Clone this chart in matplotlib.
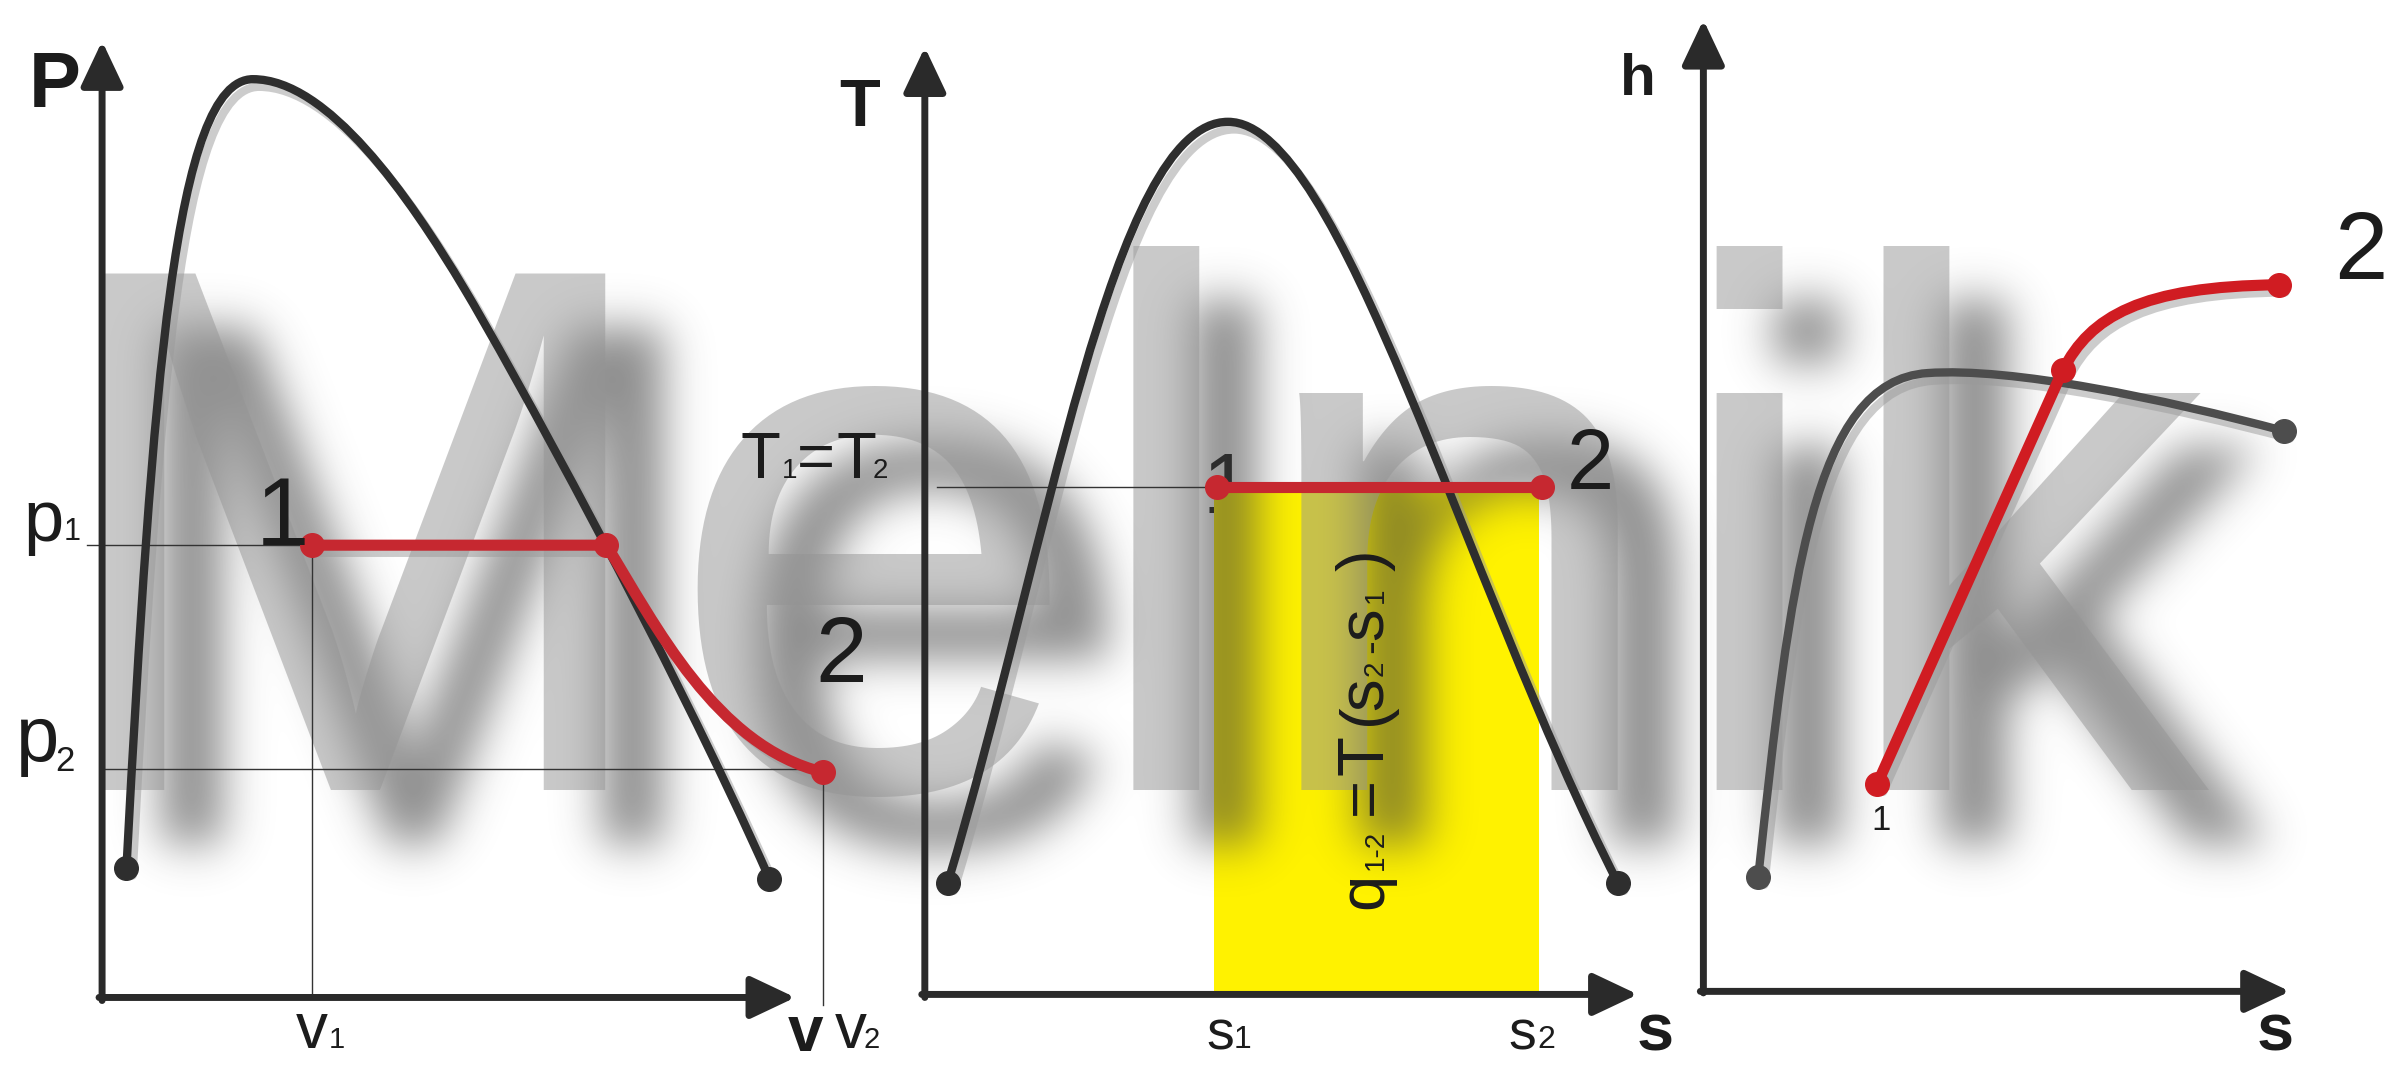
import numpy as np
import matplotlib
matplotlib.use("Agg")
import matplotlib.pyplot as plt
from matplotlib.path import Path
from matplotlib.patches import PathPatch, Rectangle
from matplotlib.figure import Figure
from matplotlib.backends.backend_agg import FigureCanvasAgg

plt.rcParams['font.family'] = ['Liberation Sans', 'DejaVu Sans']

# drawing units = reference picture at 1568x700, y pointing down
W, H = 1568, 700

# saturation curves and processes, bezier control points (x, y)
pv_dome = [(83, 570), (100, 250), (115, 52), (166, 52), (215, 52), (268, 128),
           (305, 190), (332, 235), (440, 430), (505, 577)]
pv_proc = [(205, 358), (398, 358), (430, 410), (470, 490), (540, 507)]
ts_dome = [(622, 580), (688, 360), (730, 80), (806, 80), (880, 80), (960, 380), (1062, 580)]
ts_proc = [(799, 320), (1012, 320)]
hs_sat = [(1154, 576), (1175, 380), (1190, 250), (1265, 245), (1320, 241), (1420, 262), (1499, 283)]
hs_proc = [(1232, 515), (1354, 243), (1372, 208), (1405, 188), (1496, 187)]

pv_red_dots = [(205, 358), (398, 358), (540, 507)]
ts_red_dots = [(799, 320), (1012, 320)]
hs_red_dots = [(1232, 515), (1354, 243), (1496, 187)]

# coordinate axes (start, tip)
axes_arrows = [((67, 657), (67, 27)), ((65, 655), (522, 655)),
               ((607, 655), (607, 31)), ((605, 653), (1075, 653)),
               ((1118, 652), (1118, 13)), ((1116, 651), (1503, 651))]

# thin guide lines
guides = [((57, 358), (205, 358)), ((205, 358), (205, 655)),
          ((67, 505), (540, 505)), ((540, 507), (540, 660)),
          ((615, 320), (799, 320))]

# heat area q = T(s2 - s1): s1, s2, top, bottom
q_area = (797, 1010, 322, 651)

# labels: x, baseline y, text, size, weight
labels = [
    (19, 70, 'P', 56, 'bold'),
    (15.5, 355.5, 'p', 52, 'normal'), (41.5, 354.5, '1', 22, 'normal'),
    (10.6, 500, 'p', 56, 'normal'), (36, 506.5, '2', 25, 'normal'),
    (168, 358, '1', 69, 'normal'),
    (535, 448, '2', 67, 'normal'),
    (194, 688, 'v', 46, 'normal'), (216, 688, '1', 21, 'normal'),
    (517, 690, 'v', 46, 'bold'),
    (548, 688, 'v', 46, 'normal'), (567, 688, '2', 21, 'normal'),
    (551, 82.6, 'T', 48, 'bold'),
    (486, 314, 'T', 47, 'normal'), (513, 314, '1', 20, 'normal'),
    (523, 314, '=', 47, 'normal'), (549, 314, 'T', 47, 'normal'), (573, 314, '2', 20, 'normal'),
    (1028, 321, '2', 61, 'normal'),
    (792, 689, 's', 40, 'normal'), (810, 688, '1', 23, 'normal'),
    (990, 689, 's', 40, 'normal'), (1009, 688, '2', 23, 'normal'),
    (1074, 690, 's', 48, 'bold'),
    (1063, 62.5, 'h', 42, 'bold'),
    (1532, 183, '2', 69, 'normal'),
    (1481, 690, 's', 48, 'bold'),
]
# labels partly hidden under the process lines
hidden_labels = [(789, 337, '1', 61), (1228, 545, '1', 25)]

# rotated formula q1-2 = T(s2-s1): text, size, start y
q_pieces = [('q', 47, 597), ('1-2', 20, 571), ('=', 47, 535), ('T', 47, 509),
            ('(', 47, 476), ('s', 47, 466), ('2', 20, 444), ('-', 30, 429),
            ('s', 47, 420), ('1', 20, 396), (')', 47, 375)]
q_baseline_x = 907.5

wm_text = 'Melnik'
wm_pos = (27.4, 519)
wm_size = 540
wm_shadow_off = (38, 35)

DARK = '#2e2e2e'
RED = '#c62830'
RED3 = '#d01c22'
TXT = '#1c1c1c'


def bez(pts, n_line=0):
    codes = [Path.MOVETO] + [Path.LINETO] * n_line + [Path.CURVE4] * (len(pts) - 1 - n_line)
    return Path(pts, codes)


fig = plt.figure(figsize=(23.89, 10.66), dpi=100)
ax = fig.add_axes([0, 0, 1, 1])

# yellow area
ax.add_patch(Rectangle((q_area[0], q_area[2]), q_area[1] - q_area[0], q_area[3] - q_area[2],
                       facecolor='#fff200', edgecolor='none', zorder=1))

# watermark shadow, blurred
sfig = Figure(figsize=(23.89, 10.66), dpi=100)
FigureCanvasAgg(sfig)
sax = sfig.add_axes([0, 0, 1, 1])
sax.set_xlim(0, W)
sax.set_ylim(H, 0)
sax.axis('off')
sax.text(wm_pos[0] + wm_shadow_off[0], wm_pos[1] + wm_shadow_off[1], wm_text,
         fontsize=wm_size, color='black', va='baseline', ha='left')
sfig.canvas.draw()
m = 1 - np.asarray(sfig.canvas.buffer_rgba())[..., 0] / 255.0
ky = np.fft.fftfreq(m.shape[0])[:, None]
kx = np.fft.rfftfreq(m.shape[1])[None, :]
sig = 22
m = np.fft.irfft2(np.fft.rfft2(m) * np.exp(-2 * (np.pi * sig) ** 2 * (kx ** 2 + ky ** 2)), s=m.shape)
img = np.zeros(m.shape + (4,))
img[..., :3] = 0.25
img[..., 3] = np.clip(m, 0, 1) * 0.6
ax.imshow(img, extent=(0, W, H, 0), aspect='auto', zorder=2, interpolation='bilinear')

# watermark letters
ax.text(wm_pos[0], wm_pos[1], wm_text, fontsize=wm_size, color='#949494', alpha=0.5,
        va='baseline', ha='left', zorder=3)

# curve shadows
for pts, nl in [(pv_dome, 0), (ts_dome, 0), (hs_sat, 0), (pv_proc, 1), (hs_proc, 1)]:
    sh = [(x + 4, y + 5) for x, y in pts]
    ax.add_patch(PathPatch(bez(sh, nl), fill=False, lw=6, edgecolor='#9a9a9a', alpha=0.5,
                           capstyle='round', zorder=4))

for (x0, y0), (x1, y1) in guides:
    ax.plot([x0, x1], [y0, y1], color='#333333', lw=1.0, zorder=5)

for start, tip in axes_arrows:
    ax.annotate('', xy=tip, xytext=start,
                arrowprops=dict(arrowstyle='-|>,head_length=0.55,head_width=0.26',
                                lw=5, color='#2a2a2a', mutation_scale=50,
                                shrinkA=0, shrinkB=0), zorder=5)

# saturation curves
for pts, col in [(pv_dome, DARK), (ts_dome, DARK), (hs_sat, '#4d4d4d')]:
    ax.add_patch(PathPatch(bez(pts), fill=False, lw=6, edgecolor=col, capstyle='round', zorder=6))
    ends = np.array([pts[0], pts[-1]])
    ax.plot(ends[:, 0], ends[:, 1], 'o', color=col, ms=17, zorder=7)

# processes
ax.add_patch(PathPatch(bez(pv_proc, 1), fill=False, lw=8, edgecolor=RED, capstyle='round', zorder=6))
ax.add_patch(PathPatch(bez(ts_proc, 1), fill=False, lw=8, edgecolor=RED, capstyle='round', zorder=6))
ax.add_patch(PathPatch(bez(hs_proc, 1), fill=False, lw=8, edgecolor=RED3, capstyle='round', zorder=6))
for dots, col in [(pv_red_dots, RED), (ts_red_dots, RED), (hs_red_dots, RED3)]:
    d = np.array(dots)
    ax.plot(d[:, 0], d[:, 1], 'o', color=col, ms=17, zorder=7)

for x, y, s, size, wt in labels:
    ax.text(x, y, s, fontsize=size, fontweight=wt, color=TXT, ha='left', va='baseline', zorder=8)
for x, y, s, size in hidden_labels:
    ax.text(x, y, s, fontsize=size, color=TXT, ha='left', va='baseline', zorder=0.5)

for s, size, y in q_pieces:
    ax.text(q_baseline_x, y, s, fontsize=size, color=TXT, rotation=90, rotation_mode='anchor',
            ha='left', va='baseline', zorder=8)

ax.set_xlim(0, W)
ax.set_ylim(H, 0)
ax.axis('off')
fig.savefig('out.png', dpi=100, facecolor='white')
